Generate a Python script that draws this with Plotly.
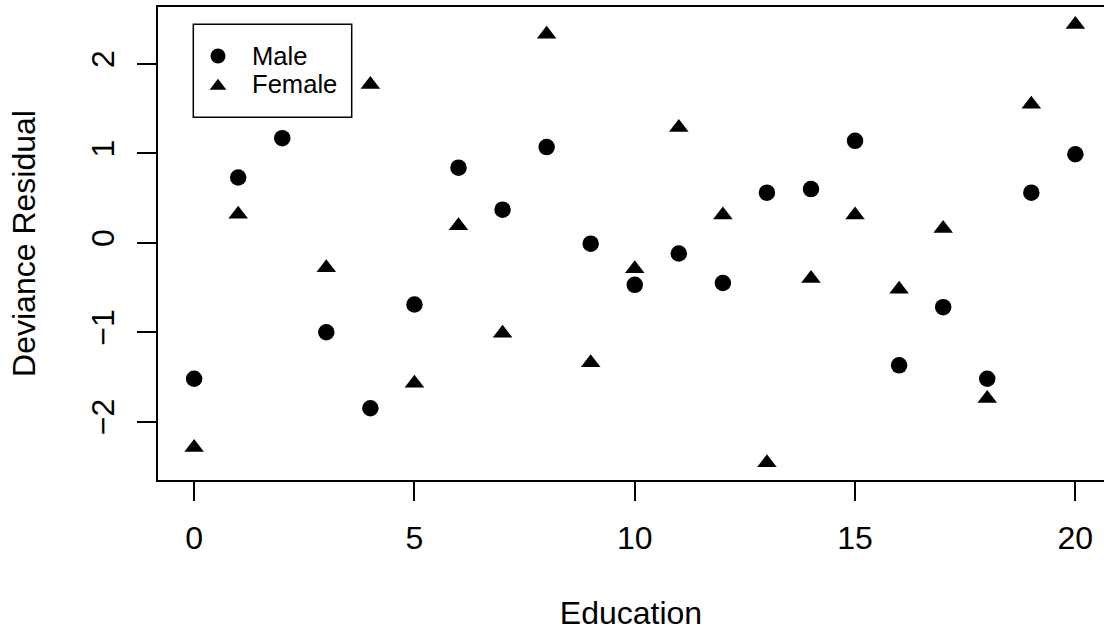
import plotly.graph_objects as go

education = list(range(21))
male_resid = [-1.52, 0.73, 1.17, -1.00, -1.85, -0.69, 0.84, 0.37, 1.07, -0.01, -0.47,
              -0.12, -0.45, 0.56, 0.60, 1.14, -1.37, -0.72, -1.52, 0.56, 0.99]
# value at education = 2 is hidden behind the legend in the original
female_resid = [-2.29, 0.32, None, -0.28, 1.77, -1.57, 0.19, -1.01, 2.33, -1.34, -0.29,
                1.29, 0.31, -2.46, -0.40, 0.31, -0.52, 0.16, -1.74, 1.55, 2.44]
x_ticks = [0, 5, 10, 15, 20]
y_ticks = [-2, -1, 0, 1, 2]
y_ticktext = ["\u22122", "\u22121", "0", "1", "2"]
legend_labels = ["Male", "Female"]

FONT = "Liberation Sans, Arial, Helvetica, sans-serif"

# layout geometry (pixels)
W, H = 1104, 631
L, T, B = 158, 7, 151
PW, PH = W - L, H - T - B


def px_x(p):
    return (p - L) / PW


def px_y(p):
    return (T + PH - p) / PH


fig = go.Figure()
fig.add_trace(go.Scatter(x=education, y=male_resid, mode="markers", name=legend_labels[0],
                         marker=dict(symbol="circle", size=16.5, color="black", line=dict(width=0))))
fig.add_trace(go.Scatter(x=education, y=female_resid, mode="markers", name=legend_labels[1],
                         marker=dict(symbol="triangle-up", size=17, color="black", line=dict(width=0))))

# legend keys, drawn on an overlay axis pair whose 0..1 range spans the plot area
key_x = px_x(218)
key_rows = [px_y(56), px_y(86)]
fig.add_trace(go.Scatter(x=[key_x], y=[key_rows[0]], xaxis="x2", yaxis="y2", mode="markers",
                         marker=dict(symbol="circle", size=15, color="black"),
                         hoverinfo="skip", showlegend=False))
fig.add_trace(go.Scatter(x=[key_x], y=[key_rows[1]], xaxis="x2", yaxis="y2", mode="markers",
                         marker=dict(symbol="triangle-up", size=14.5, color="black"),
                         hoverinfo="skip", showlegend=False))

shapes = [dict(type="rect", xref="paper", yref="paper",
               x0=px_x(193.3), x1=px_x(351.7), y0=px_y(117.3), y1=px_y(24.3),
               line=dict(color="black", width=1.5), fillcolor="white", layer="below")]

annotations = [
    dict(text=legend_labels[0], xref="paper", yref="paper", x=px_x(249.5), y=px_y(56),
         xanchor="left", yanchor="middle", showarrow=False,
         font=dict(size=25.6, family=FONT, color="black")),
    dict(text=legend_labels[1], xref="paper", yref="paper", x=px_x(249.5), y=px_y(84.5),
         xanchor="left", yanchor="middle", showarrow=False,
         font=dict(size=25.6, family=FONT, color="black")),
]

fig.update_layout(
    width=W, height=H,
    margin=dict(l=L, r=0, t=T, b=B, pad=0),
    paper_bgcolor="white", plot_bgcolor="white",
    font=dict(family=FONT, size=32, color="black"),
    showlegend=False,
    hovermode=False,
    shapes=shapes,
    annotations=annotations,
    xaxis=dict(range=[-0.82, 20.65], tickmode="array", tickvals=x_ticks,
               ticks="outside", ticklen=19, tickwidth=2, tickcolor="black",
               showline=True, linewidth=2, linecolor="black", mirror=True,
               showgrid=False, zeroline=False,
               tickfont=dict(size=32), ticklabelstandoff=10,
               title=dict(text="Education", font=dict(size=32), standoff=50)),
    yaxis=dict(range=[-2.652, 2.636], tickmode="array", tickvals=y_ticks, ticktext=y_ticktext,
               tickangle=-90,
               ticks="outside", ticklen=19, tickwidth=2, tickcolor="black",
               showline=True, linewidth=2, linecolor="black", mirror=False,
               showgrid=False, zeroline=False,
               tickfont=dict(size=32), ticklabelstandoff=10,
               title=dict(text="Deviance Residual", font=dict(size=32), standoff=40)),
    xaxis2=dict(range=[0, 1], overlaying="x", anchor="y2", visible=False, fixedrange=True),
    yaxis2=dict(range=[0, 1], overlaying="y", anchor="x2", visible=False, fixedrange=True),
)

fig.write_html("out.html", config={"displayModeBar": False, "staticPlot": True},
               post_script="document.body.style.margin='0';document.body.style.overflow='hidden';")
